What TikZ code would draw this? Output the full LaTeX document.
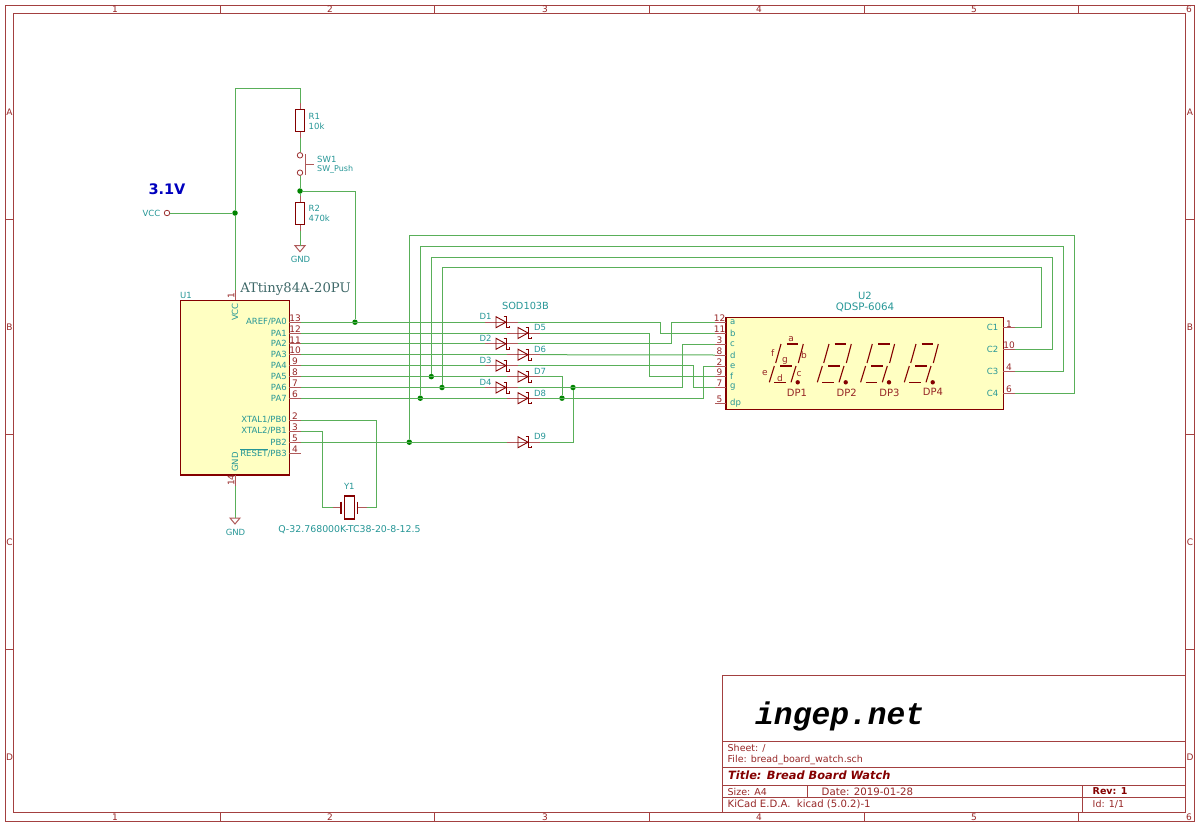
\documentclass[tikz,border=0pt]{standalone}
\usepackage{fontspec}
\usepackage{xcolor}
\setmainfont{DejaVu Sans}
\newfontfamily\partfont{DejaVu Serif}
\newfontfamily\logofont{Liberation Mono}
\usetikzlibrary{positioning, calc}
\definecolor{kired}{RGB}{132, 0, 0}
\definecolor{kigreen}{RGB}{0, 132, 0}
\definecolor{kiteal}{RGB}{0, 132, 132}
\definecolor{kibody}{RGB}{255, 255, 194}
\definecolor{kipart}{RGB}{62, 104, 104}

% diode: name, left end x, y
\newcommand{\diode}[3]{%
  \coordinate (#1a) at (#2,#3);
  \coordinate (#1k) at ($(#1a)+(33,0)$);
  \draw[pin] (#1a) -- (#1k);
  \draw[body, line width=0.9pt] ($(#1a)+(11,-5.5)$) -- ($(#1a)+(21,0)$) -- ($(#1a)+(11,5.5)$) -- cycle;
  \draw[body, line width=0.9pt, line join=miter] ($(#1a)+(18.5,-5.5)$) -- ($(#1a)+(21,-5.5)$) -- ($(#1a)+(21,5.5)$) -- ($(#1a)+(24,5.5)$) -- ($(#1a)+(24,3.5)$);
}
% one digit of the display, dx is the shift from the first one
\newcommand{\digit}[1]{%
  \draw[seg] (786.7+#1,344) -- (798.3+#1,344);
  \draw[seg] (781+#1,344) -- (775.7+#1,363);
  \draw[seg] (803.3+#1,344) -- (798.3+#1,363);
  \draw[seg] (780+#1,366) -- (791.7+#1,366);
  \draw[seg] (774.3+#1,366) -- (769.3+#1,382.3);
  \draw[seg] (796+#1,366) -- (791+#1,382.3);
  \draw[seg] (774.3+#1,382.3) -- (786+#1,382.3);
  \fill[kired] (797.7+#1,382.3) circle (2.2);
}

\begin{document}
\begin{tikzpicture}[
    x=1pt, y=-1pt,
    frame/.style={draw=kired!75, line width=0.9pt},
    body/.style={draw=kired, line width=1.2pt},
    chip/.style={draw=kired, line width=1.2pt, fill=kibody},
    pin/.style={draw=kired!65, line width=1pt},
    seg/.style={draw=kired, line width=1.1pt},
    wire/.style={draw=kigreen!65, line width=1pt},
    dot/.style={circle, fill=kigreen, inner sep=0pt, minimum size=5.5pt},
    hole/.style={circle, draw=kired!80, line width=0.8pt, fill=white, inner sep=0pt, minimum size=5.5pt},
    lbl/.style={text=kiteal!85, font=\fontsize{8.5}{10}\selectfont, inner sep=0pt},
    num/.style={text=kired!85, font=\fontsize{9}{10}\selectfont, inner sep=0pt},
    sheet/.style={text=kired!85, font=\fontsize{9.5}{11}\selectfont, inner sep=0pt, anchor=west},
    sheetb/.style={text=kired, font=\fontsize{9.5}{11}\selectfont\bfseries, inner sep=0pt, anchor=west}
]
    \useasboundingbox (0,0) rectangle (1200,827);

    % Sheet border
    \draw[frame] (5.5,5.5) rectangle (1194.5,821);
    \draw[frame] (13.5,13.5) rectangle (1185.7,812.6);
    \foreach \xtick in {220,434.5,649,864,1078.5} {
      \draw[frame] (\xtick,5.5) -- (\xtick,13.5);
      \draw[frame] (\xtick,812.6) -- (\xtick,821);
    }
    \foreach \ytick in {219,434,649} {
      \draw[frame] (5.5,\ytick) -- (13.5,\ytick);
      \draw[frame] (1185.7,\ytick) -- (1194.5,\ytick);
    }
    \foreach \xlab/\tlab in {115/1,330/2,545/3,759/4,974/5,1189/6} {
      \node[num, name=top\tlab] at (\xlab,9.5) {\tlab};
      \node[num, name=bot\tlab] at (\xlab,817) {\tlab};
    }
    \foreach \ylab/\tlab in {112/A,327/B,542/C,757/D} {
      \node[num, name=left\tlab] at (9.5,\ylab) {\tlab};
      \node[num, name=right\tlab] at (1190,\ylab) {\tlab};
    }

    % Title block
    \draw[frame] (722.5,675.3) rectangle (1185.7,812.6);
    \draw[frame] (722.5,741.7) -- (1185.7,741.7);
    \draw[frame] (722.5,767.7) -- (1185.7,767.7);
    \draw[frame] (722.5,785) -- (1185.7,785);
    \draw[frame] (722.5,797.7) -- (1185.7,797.7);
    \draw[frame] (807.7,785) -- (807.7,797.7);
    \draw[frame] (1082.7,785) -- (1082.7,812.6);
    \node[inner sep=0pt, anchor=base west, font=\fontsize{31.3}{33}\selectfont\logofont\bfseries\itshape] (logo) at (755,724) {ingep.net};
    \node[sheet] (sheetname) at (727.5,748.5) {Sheet: /};
    \node[sheet] (filename) at (727.5,760) {File: bread\_board\_watch.sch};
    \node[sheetb, font=\fontsize{11.4}{13}\selectfont\bfseries\itshape] (title) at (728,775.5) {Title: Bread Board Watch};
    \node[sheet] (size) at (727.5,791.5) {Size: A4};
    \node[sheet, font=\fontsize{10.2}{11}\selectfont] (date) at (821.5,791.5) {Date: 2019-01-28};
    \node[sheetb] (rev) at (1092.5,791.5) {Rev: 1};
    \node[sheet, font=\fontsize{10.1}{11}\selectfont] (kicad) at (727.5,804) {KiCad E.D.A.\ \ kicad (5.0.2)-1};
    \node[sheet] (id) at (1092.5,804) {Id: 1/1};

    % Supply, reset and switch
    \node[text={rgb,255:red,0;green,0;blue,190}, font=\fontsize{14.5}{17}\selectfont\bfseries, inner sep=0pt] (volt) at (167,189) {3.1V};
    \node[hole] (vcc) at (167,213) {};
    \node[lbl, anchor=east] (vcclbl) at (160.5,213) {VCC};
    \coordinate (vcctop) at (235,88);
    \node[dot] (vccdot) at (235,213) {};
    \coordinate (r1a) at (300,103);
    \coordinate (r1b) at (300,138);
    \draw[pin] (r1a) -- (r1b);
    \draw[body, fill=white] (295.7,109.3) rectangle (304.7,131.7);
    \node[lbl, anchor=west] (r1) at (308.5,116) {R1};
    \node[lbl, anchor=west] (r1val) at (308.5,126) {10k};
    \node[hole] (swa) at (300,155.3) {};
    \node[hole] (swb) at (300,172.7) {};
    \draw[pin] (305.7,154) -- (305.7,175);
    \draw[pin] (305.7,164) -- (314,164);
    \node[lbl, anchor=west] (sw1) at (317,159.5) {SW1};
    \node[lbl, anchor=west, font=\fontsize{8}{10}\selectfont] (sw1val) at (317,169.5) {SW\_Push};
    \node[dot] (swdot) at (300,191) {};
    \coordinate (r2a) at (300,196);
    \coordinate (r2b) at (300,231);
    \draw[pin] (r2a) -- (r2b);
    \draw[body, fill=white] (295.7,202.3) rectangle (304.7,224.3);
    \node[lbl, anchor=west] (r2) at (308.5,208) {R2};
    \node[lbl, anchor=west] (r2val) at (308.5,218) {470k};
    \coordinate (gnda) at (300,245.7);
    \draw[pin] (295,245.7) -- (305,245.7) -- (300,251.7) -- cycle;
    \node[lbl] (gndalbl) at (300.5,259.5) {GND};

    % U1
    \node[chip, minimum width=109pt, minimum height=174.7pt, inner sep=0pt] (u1) at (234.8,387.6) {};
    \node[lbl, anchor=south west] (u1ref) at (180,299) {U1};
    \node[text=kipart, inner sep=0pt, font=\fontsize{13.2}{15}\selectfont\partfont] (u1val) at (295.5,289.5) {ATtiny84A-20PU};
    \foreach \pnum/\py/\pname in {13/322.2/AREF\slash PA0, 12/333/PA1, 11/343.8/PA2, 10/354.7/PA3, 9/365.6/PA4, 8/376.6/PA5, 7/387.5/PA6, 6/398.2/PA7, 2/420.2/XTAL1\slash PB0, 3/431.2/XTAL2\slash PB1, 5/442.2/PB2} {
      \coordinate (u1p\pnum) at (300.5,\py);
      \draw[pin] (289.3,\py) -- (u1p\pnum);
      \node[num, anchor=south] at (295,\py-0.5) {\pnum};
      \node[lbl, anchor=east] at (287,\py) {\pname};
    }
    \draw[pin] (289.3,453) -- (300.5,453);
    \node[num, anchor=south] (u1p4num) at (295,452.5) {4};
    \node[lbl, anchor=east] (u1rst) at (287,453) {$\overline{\hbox{RESET}}$/PB3};
    \coordinate (u1vcc) at (235,289.5);
    \coordinate (u1gnd) at (235,486);
    \draw[pin] (u1vcc) -- (235,300.3);
    \draw[pin] (235,475) -- (u1gnd);
    \node[lbl, rotate=90, anchor=east] (u1vcclbl) at (235,303) {VCC};
    \node[lbl, rotate=90, anchor=west] (u1gndlbl) at (235,472) {GND};
    \node[num, rotate=90] (u1p1num) at (231,296) {1};
    \node[num, rotate=90] (u1p14num) at (231,480) {14};
    \coordinate (gndb) at (235,518);
    \draw[pin] (230,518) -- (240,518) -- (235,524) -- cycle;
    \node[lbl] (gndblbl) at (235.5,532) {GND};

    % Crystal
    \coordinate (y1a) at (333,507.7);
    \coordinate (y1b) at (366.7,507.7);
    \draw[pin] (y1a) -- (340.7,507.7);
    \draw[pin] (357.7,507.7) -- (y1b);
    \draw[body] (341,501.7) -- (341,514.3);
    \draw[body] (357.7,501.7) -- (357.7,514.3);
    \draw[body] (344.3,496) rectangle (354.3,519);
    \node[lbl] (y1) at (349.3,486) {Y1};
    \node[lbl, font=\fontsize{9.4}{10}\selectfont] (y1val) at (349.5,530) {Q-32.768000K-TC38-20-8-12.5};

    % Diodes
    \diode{d1}{485}{322.2}
    \diode{d2}{485}{343.8}
    \diode{d3}{485}{365.6}
    \diode{d4}{485}{387.5}
    \diode{d5}{507}{333}
    \diode{d6}{507}{354.7}
    \diode{d7}{507}{376.6}
    \diode{d8}{507}{398.2}
    \diode{d9}{507}{442.2}
    \node[lbl, font=\fontsize{9.8}{10}\selectfont] (sod) at (525.5,305.5) {SOD103B};
    \foreach \dname/\dx/\dy in {D1/485.5/316.5, D2/485.5/338, D3/485.5/360, D4/485.5/382, D5/540/327.5, D6/540/349.5, D7/540/371, D8/540/393, D9/540/436.5} {
      \node[lbl] at (\dx,\dy) {\dname};
    }

    % U2
    \node[chip, minimum width=277.3pt, minimum height=92pt, inner sep=0pt] (u2) at (864.65,363.3) {};
    \node[lbl, font=\fontsize{10}{11}\selectfont] (u2ref) at (865,295.5) {U2};
    \node[lbl, font=\fontsize{10.3}{11}\selectfont] (u2val) at (865,307) {QDSP-6064};
    \foreach \pnum/\py/\pname in {12/322.2/a, 11/333/b, 3/344/c, 8/355/d, 2/366/e, 9/376.7/f, 7/387.3/g, 5/403.3/dp} {
      \coordinate (u2p\pnum) at (715,\py);
      \draw[pin] (u2p\pnum) -- (726,\py);
      \node[num, anchor=south] at (719.5,\py-0.5) {\pnum};
      \node[lbl, anchor=west] at (730,\py) {\pname};
    }
    \foreach \pnum/\py/\pname in {1/327.7/C1, 10/349.3/C2, 4/371.3/C3, 6/393/C4} {
      \coordinate (u2p\pnum) at (1015,\py);
      \draw[pin] (1003.3,\py) -- (u2p\pnum);
      \node[num, anchor=south] at (1009,\py-0.5) {\pnum};
      \node[lbl, anchor=east] at (998.5,\py) {\pname};
    }
    \digit{0}
    \digit{48}
    \digit{91.3}
    \digit{135}
    \foreach \sname/\sx/\sy in {a/791/339.3, b/804/355, c/799/374, d/780/378, e/765/373, f/772.7/353, g/785/361} {
      \node[num] at (\sx,\sy) {\sname};
    }
    \foreach \sname/\sx/\sy in {DP1/797/393, DP2/846.7/393, DP3/889.5/393, DP4/933/392} {
      \node[num, font=\fontsize{10}{11}\selectfont] at (\sx,\sy) {\sname};
    }

    % Junctions
    \node[dot] (j13) at (355,322.2) {};
    \node[dot] (j8) at (431.3,376.6) {};
    \node[dot] (j7) at (442,387.5) {};
    \node[dot] (j6) at (420.3,398.2) {};
    \node[dot] (j5) at (409.3,442.2) {};
    \node[dot] (j78) at (562,398.2) {};
    \node[dot] (j79) at (573,387.5) {};

    % Wires
    \draw[wire] (vcc) -- (vccdot);
    \draw[wire] (u1vcc) -- (vccdot) -- (vcctop) -| (r1a);
    \draw[wire] (r1b) -- (swa);
    \draw[wire] (swb) -- (swdot) -- (r2a);
    \draw[wire] (r2b) -- (gnda);
    \draw[wire] (swdot) -| (j13);
    \draw[wire] (u1gnd) -- (gndb);
    \draw[wire] (u1p2) -- (376.7,420.2) |- (y1b);
    \draw[wire] (u1p3) -- (322.3,431.2) |- (y1a);

    \draw[wire] (u1p13) -- (d1a);
    \draw[wire] (u1p12) -- (d5a);
    \draw[wire] (u1p11) -- (d2a);
    \draw[wire] (u1p10) -- (d6a);
    \draw[wire] (u1p9) -- (d3a);
    \draw[wire] (u1p8) -- (d7a);
    \draw[wire] (u1p7) -- (d4a);
    \draw[wire] (u1p6) -- (d8a);
    \draw[wire] (u1p5) -- (d9a);

    \draw[wire] (d1k) -- (660,322.2) -- (660,333) -- (u2p11);
    \draw[wire] (d5k) -- (649,333) -- (649,376.7) -- (u2p9);
    \draw[wire] (d2k) -- (671,343.8) -- (671,322.2) -- (u2p12);
    \draw[wire] (d6k) -- (u2p8);
    \draw[wire] (d3k) -- (693,365.6) -- (693,387.3) -- (u2p7);
    \draw[wire] (d7k) -| (j78);
    \draw[wire] (d4k) -- (682.3,387.5) -- (682.3,344) -- (u2p3);
    \draw[wire] (d8k) -- (703.7,398.2) -- (703.7,366) -- (u2p2);
    \draw[wire] (d9k) -| (j79);

    \draw[wire] (u2p1) -- (1041.7,327.7) -- (1041.7,267.7) -- (442,267.7) -- (j7);
    \draw[wire] (u2p10) -- (1052.7,349.3) -- (1052.7,257) -- (431.3,257) -- (j8);
    \draw[wire] (u2p4) -- (1063.7,371.3) -- (1063.7,246) -- (420.3,246) -- (j6);
    \draw[wire] (u2p6) -- (1074.7,393) -- (1074.7,235) -- (409.3,235) -- (j5);
\end{tikzpicture}
\end{document}
